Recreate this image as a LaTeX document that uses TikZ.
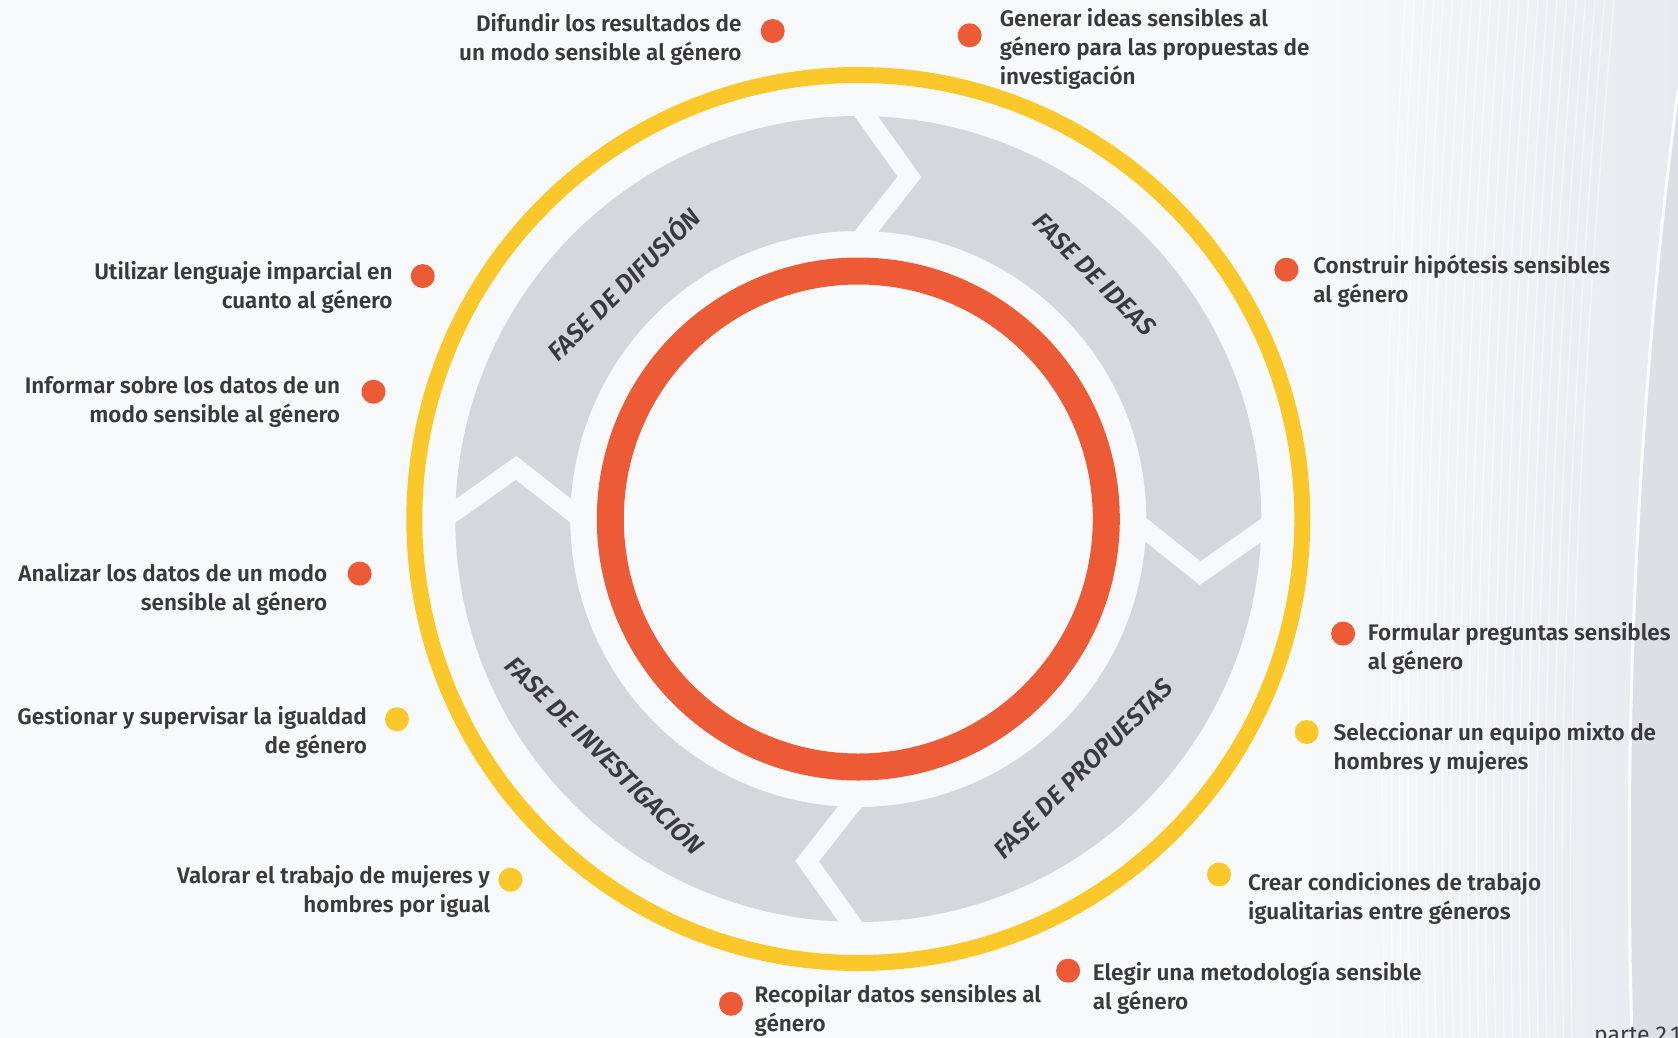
\documentclass[tikz,border=0pt]{standalone}
\usepackage{fontspec}
\setmainfont{Fira Sans}
\newfontfamily\lblfont{Fira Sans}[UprightFont={* SemiBold}, ItalicFont={* SemiBold Italic}, BoldFont={* Bold}]
\usetikzlibrary{calc}
\definecolor{ringyellow}{RGB}{251,200,44}
\definecolor{ringred}{RGB}{236,90,54}
\definecolor{bandgray}{RGB}{214,215,219}
\definecolor{txtgray}{RGB}{58,58,60}
\definecolor{bgwhite}{RGB}{248,249,250}
\definecolor{bggray}{RGB}{232,234,237}
\definecolor{bgdark}{RGB}{222,223,226}
\begin{document}
\begin{tikzpicture}[x=1pt,y=-1pt,
  lbl/.style={font=\lblfont\fontsize{22.5}{29}\selectfont, text=txtgray, inner sep=0pt},
  lblL/.style={lbl, align=left, anchor=west},
  lblR/.style={lbl, align=right, anchor=east},
  dotbase/.style={circle, minimum size=24pt, inner sep=0pt},
  reddot/.style={dotbase, fill=ringred},
  ylwdot/.style={dotbase, fill=ringyellow},
  phase/.style={font=\lblfont\itshape\fontsize{25.5}{28}\selectfont, text=txtgray, inner sep=0pt},
  chev/.style={draw=bgwhite, line width=19pt, line join=miter, miter limit=10}]
% background
\useasboundingbox (0,0) rectangle (1678,1038);
\fill[bgwhite] (0,0) rectangle (1678,1038);
\shade[left color=bgwhite, right color=bggray] (1300,0) rectangle (1678,1038);
\foreach \i in {0,...,22}{
  \draw[white, opacity=0.55, line width=1.3pt]
    (1405+\i*9.5,0) .. controls (1385+\i*9,350) and (1378+\i*8.5,700) .. (1385+\i*8.5,1038);
}
\fill[bgdark] (1678,90) .. controls (1640,380) and (1622,700) .. (1632,1038) -- (1678,1038) -- cycle;
\draw[white, opacity=0.9, line width=3pt] (1678,90) .. controls (1640,380) and (1622,700) .. (1632,1038);

% cycle diagram
\coordinate (C) at (858.3,519);
\draw[ringyellow, line width=16pt] (C) circle[radius=444pt];
\fill[bandgray, even odd rule] (C) circle[radius=403pt] (C) circle[radius=288pt];
\draw[ringred, line width=27pt] (C) circle[radius=248pt];
% chevron separators (arrow heads, clockwise flow)
\foreach \b in {90,-0.5,270,180}{
  \draw[chev] ([shift={(C)}]\b:414pt) -- ([shift={(C)}]{\b-8.5}:346pt) -- ([shift={(C)}]\b:277pt);
}
% phase labels
\node[phase, rotate=45]  (pdif) at ([shift={(C)}]135:334pt) {FASE DE DIFUSIÓN};
\node[phase, rotate=-45] (pide) at ([shift={(C)}]46:340pt) {FASE DE IDEAS};
\node[phase, rotate=45]  (ppro) at ([shift={(C)}]-48:336pt) {FASE DE PROPUESTAS};
\node[phase, rotate=-45] (pinv) at ([shift={(C)}]223:344pt) {FASE DE INVESTIGACIÓN};

% items
\node[reddot] (d1) at (772.7,31) {};
\node[lblR] (t1) at (741.6,39.6) {Difundir los resultados de\\un modo sensible al género};
\node[reddot] (d2) at (969.6,35.3) {};
\node[lblL] (t2) at (999.6,49.2) {Generar ideas sensibles al\\género para las propuestas de\\investigación};
\node[reddot] (d3) at (422.7,276.1) {};
\node[lblR] (t3) at (392.8,287.9) {Utilizar lenguaje imparcial en\\cuanto al género};
\node[reddot] (d4) at (1286.4,269.7) {};
\node[lblL] (t4) at (1313.1,280.9) {Construir hipótesis sensibles\\al género};
\node[reddot] (d5) at (373.5,391.7) {};
\node[lblR] (t5) at (340.3,401.9) {Informar sobre los datos de un\\modo sensible al género};
\node[reddot] (d6) at (359.6,573.6) {};
\node[lblR] (t6) at (327.5,589.1) {Analizar los datos de un modo\\sensible al género};
\node[reddot] (d7) at (1343.1,633.6) {};
\node[lblL] (t7) at (1367.7,648.0) {Formular preguntas sensibles\\al género};
\node[ylwdot] (d8) at (397.0,719.2) {};
\node[lblR] (t8) at (367.1,732.6) {Gestionar y supervisar la igualdad\\de género};
\node[ylwdot] (d9) at (1306.7,732.0) {};
\node[lblL] (t9) at (1333.5,748.6) {Seleccionar un equipo mixto de\\hombres y mujeres};
\node[ylwdot] (d10) at (510.5,879.7) {};
\node[lblR] (t10) at (490.2,891.5) {Valorar el trabajo de mujeres y\\hombres por igual};
\node[ylwdot] (d11) at (1219.0,874.4) {};
\node[lblL] (t11) at (1247.9,898.4) {Crear condiciones de trabajo\\igualitarias entre géneros};
\node[reddot] (d12) at (1068.1,970.7) {};
\node[lblL] (t12) at (1092.7,988.3) {Elegir una metodología sensible\\al género};
\node[reddot] (d13) at (731.0,1003.8) {};
\node[lblL] (t13) at (754.5,1010.8) {Recopilar datos sensibles al\\género};
\node[anchor=north west, inner sep=0pt, font=\fontsize{23}{26}\selectfont, text=txtgray] (pg) at (1594,1027) {parte 2.1};
\end{tikzpicture}
\end{document}
